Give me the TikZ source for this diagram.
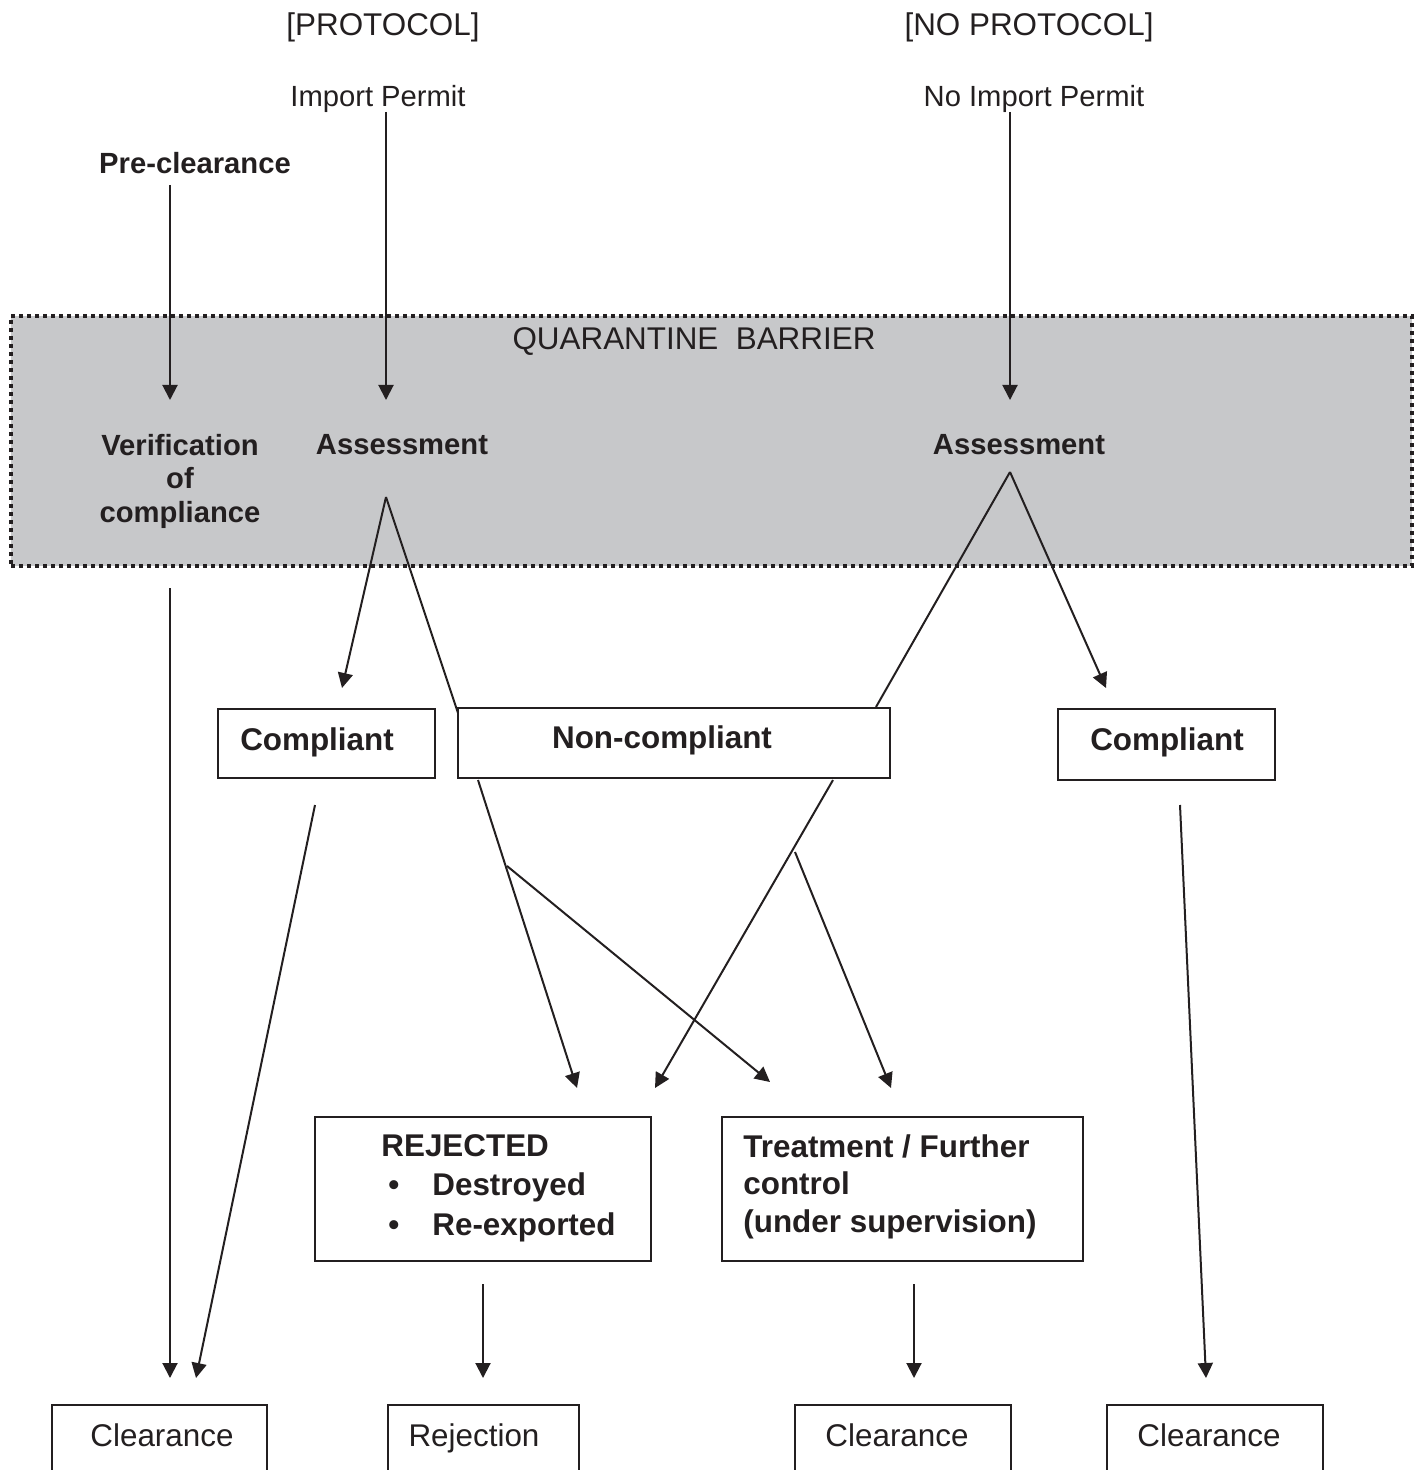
\documentclass[tikz,border=0pt]{standalone}
\usepackage{fontspec}
\setmainfont{Liberation Sans}
\usetikzlibrary{arrows.meta}
\definecolor{barrier}{RGB}{199,200,202}
\definecolor{ink}{RGB}{35,31,32}
\begin{document}
\begin{tikzpicture}[x=0.5pt,y=-0.5pt,
  every node/.style={text=ink, font=\fontsize{15.7}{19}\selectfont, inner sep=0pt},
  small/.style={font=\fontsize{14.6}{17}\selectfont},
  bold/.style={font=\fontsize{15.7}{19}\selectfont\bfseries},
  smallbold/.style={font=\fontsize{14.6}{17}\selectfont\bfseries},
  box/.style={draw=ink, line width=1pt, fill=white},
  flow/.style={draw=ink, line width=1pt, -{Triangle[length=7.5pt,width=7.5pt]}},
  link/.style={draw=ink, line width=1pt}]
\useasboundingbox (0,0) rectangle (1419,1470);
\clip (0,0) rectangle (1419,1470);

% quarantine barrier band
\node[draw=ink, fill=barrier, line width=1.6pt, dash pattern=on 2pt off 2pt,
      minimum width=700.5pt, minimum height=125pt] (barrier) at (711.5,441) {};
\node (barrierlbl) at (694,342) {QUARANTINE\ \ BARRIER};

% headings
\node (prot) at (383,27) {[PROTOCOL]};
\node (noprot) at (1029,27) {[NO PROTOCOL]};
\node[small] (imp) at (378,99) {Import Permit};
\node[small] (noimp) at (1034,99) {No Import Permit};
\node[smallbold] (pre) at (195,163) {Pre-clearance};

% stages inside the barrier
\node[align=center, font=\fontsize{14.6}{16.75}\selectfont\bfseries] (verif) at (180,481)
  {Verification\\of\\compliance};
\node[smallbold] (assL) at (402,445) {Assessment};
\node[smallbold] (assR) at (1019,445) {Assessment};

% outcome boxes
\node[box, minimum width=108.5pt, minimum height=34.5pt] (cmpL) at (326.5,743.5) {};
\node[bold] at (317,742) {Compliant};
\node[box, minimum width=216pt, minimum height=35pt] (nc) at (674,743) {};
\node[bold] at (662,740) {Non-compliant};
\node[box, minimum width=108.5pt, minimum height=35.5pt] (cmpR) at (1166.5,744.5) {};
\node[bold] at (1167,742) {Compliant};

\node[box, minimum width=168pt, minimum height=72pt] (rej) at (483,1189) {};
\node[anchor=north west, align=left, font=\fontsize{15.7}{19.75}\selectfont\bfseries]
  (rejtxt) at (381,1134)
  {REJECTED\\\makebox[25.5pt][l]{\hspace{3.5pt}\textbullet}Destroyed\\\makebox[25.5pt][l]{\hspace{3.5pt}\textbullet}Re-exported};
\node[box, minimum width=180.5pt, minimum height=72pt] (treat) at (902.5,1189) {};
\node[anchor=north west, align=left, font=\fontsize{15.7}{18.75}\selectfont\bfseries]
  (treattxt) at (743,1134)
  {Treatment / Further\\control\\(under supervision)};

% final boxes (run past the lower edge)
\node[box, anchor=north, minimum width=107.5pt, minimum height=60pt] (clr1) at (159.5,1404) {};
\node[anchor=base] at (162,1446) {Clearance};
\node[box, anchor=north, minimum width=95.5pt, minimum height=60pt] (rejn) at (483.5,1404) {};
\node[anchor=base] at (474,1446) {Rejection};
\node[box, anchor=north, minimum width=108pt, minimum height=60pt] (clr2) at (903,1404) {};
\node[anchor=base] at (897,1446) {Clearance};
\node[box, anchor=north, minimum width=108pt, minimum height=60pt] (clr3) at (1215,1404) {};
\node[anchor=base] at (1209,1446) {Clearance};

% connector end points
\coordinate (preA) at (170,185);   \coordinate (preB) at (170,400);
\coordinate (impA) at (386,112);   \coordinate (impB) at (386,400);
\coordinate (noA) at (1010,112);   \coordinate (noB) at (1010,400);
\coordinate (aL) at (386,497);
\coordinate (aLc) at (342,688);    \coordinate (aLn) at (458,713);
\coordinate (aR) at (1010,472);
\coordinate (aRn) at (876,707);    \coordinate (aRc) at (1106,688);
\coordinate (vA) at (170,588);     \coordinate (vB) at (170,1378);
\coordinate (cLA) at (315,805);    \coordinate (cLB) at (196,1378);
\coordinate (n1A) at (478,780);    \coordinate (n1B) at (577,1088);
\coordinate (n2A) at (507,866);    \coordinate (n2B) at (770,1082);
\coordinate (n3A) at (833,780);    \coordinate (n3B) at (655,1088);
\coordinate (n4A) at (795,852);    \coordinate (n4B) at (891,1088);
\coordinate (cRA) at (1180,805);   \coordinate (cRB) at (1206,1378);
\coordinate (rA) at (483,1284);    \coordinate (rB) at (483,1378);
\coordinate (tA) at (914,1284);    \coordinate (tB) at (914,1378);

% connectors
\draw[flow] (preA) -- (preB);
\draw[flow] (impA) -- (impB);
\draw[flow] (noA) -- (noB);
\draw[flow] (aL) -- (aLc);
\draw[link] (aL) -- (aLn);
\draw[link] (aR) -- (aRn);
\draw[flow] (aR) -- (aRc);
\draw[flow] (vA) -- (vB);
\draw[flow] (cLA) -- (cLB);
\draw[flow] (n1A) -- (n1B);
\draw[flow] (n2A) -- (n2B);
\draw[flow] (n3A) -- (n3B);
\draw[flow] (n4A) -- (n4B);
\draw[flow] (cRA) -- (cRB);
\draw[flow] (rA) -- (rB);
\draw[flow] (tA) -- (tB);
\end{tikzpicture}
\end{document}
